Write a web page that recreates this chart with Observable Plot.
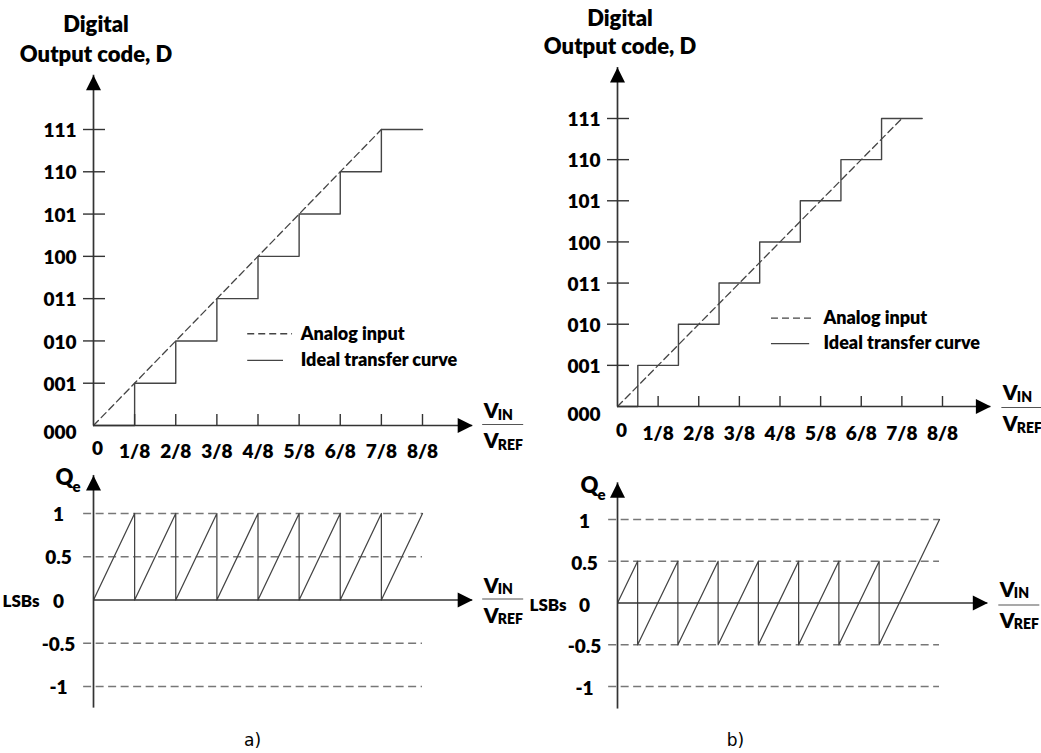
<!DOCTYPE html>
<html><head><meta charset="utf-8">
<script src="https://cdn.jsdelivr.net/npm/d3@7"></script>
<script src="https://cdn.jsdelivr.net/npm/@observablehq/plot@0.6"></script>
<style>
html,body{margin:0;padding:0;background:#fff;}
#wrap{position:relative;width:1041px;height:753px;background:#fff;overflow:hidden;}
.panel{position:absolute;}
</style></head><body><div id="wrap"></div>
<script>
// ---------- data ----------
const codeLabels = ["000","001","010","011","100","101","110","111"];
const codeValues = [0,1,2,3,4,5,6,7];
const fracLabels = ["0","1/8","2/8","3/8","4/8","5/8","6/8","7/8","8/8"];
const fracValues = [0,1,2,3,4,5,6,7,8];
const qeLabels = ["1","0.5","0","-0.5","-1"];
const qeValues = [1,0.5,0,-0.5,-1];
const legendLabels = ["Analog input","Ideal transfer curve"];

// a) ideal transfer curve (transition points, drawn step-after)
const stairA_x = [0,1,2,3,4,5,6,7,8];
const stairA_y = [0,1,2,3,4,5,6,7,7];
// b) offset by half an LSB
const stairB_x = [0,0.5,1.5,2.5,3.5,4.5,5.5,6.5,7.5];
const stairB_y = [0,1,2,3,4,5,6,7,7];
// analog input
const analog_x = [0,7];
const analog_y = [0,7];
// quantization error
const qeA_x = [0,1,1,2,2,3,3,4,4,5,5,6,6,7,7,8];
const qeA_y = [0,1,0,1,0,1,0,1,0,1,0,1,0,1,0,1];
const qeB_x = [0,0.5,0.5,1.5,1.5,2.5,2.5,3.5,3.5,4.5,4.5,5.5,5.5,6.5,6.5,8];
const qeB_y = [0,0.5,-0.5,0.5,-0.5,0.5,-0.5,0.5,-0.5,0.5,-0.5,0.5,-0.5,0.5,-0.5,1];

const pts = (xs, ys) => xs.map((x,i)=>({x, y: ys[i]}));

// ---------- styling ----------
const FONT = "Lato";
const W = 800;
const AXIS = "#333";
const CURVE = "#444";
const arrowUp = {draw(ctx){ ctx.moveTo(0,0); ctx.lineTo(7.5,15); ctx.lineTo(-7.5,15); ctx.closePath(); }};

const wrap = document.getElementById("wrap");
function panel(pos, cfg, marksFn){
  const kx = (cfg.xr[1]-cfg.xr[0])/(cfg.xd[1]-cfg.xd[0]);
  const ky = (cfg.yr[0]-cfg.yr[1])/(cfg.yd[1]-cfg.yd[0]);
  const svg = Plot.plot({
    width: pos.w, height: pos.h, margin: 0,
    x: {domain: cfg.xd, range: cfg.xr, axis: null},
    y: {domain: cfg.yd, range: cfg.yr, axis: null},
    style: {fontFamily: FONT, background: "transparent", overflow: "visible", color: "#000"},
    marks: marksFn(p => p/kx, p => p/ky)
  });
  const div = document.createElement("div");
  div.className = "panel";
  div.style.left = pos.l + "px"; div.style.top = pos.t + "px";
  div.appendChild(svg);
  wrap.appendChild(div);
}

function vinLabel(xTip, px, py, o){
  return [
    Plot.text([{x:xTip, y:0}], {x:"x", y:"y", text:()=>"V", dx:o.dx, dy:o.dyTop, textAnchor:"start", fontSize:21, fontWeight:W}),
    Plot.text([{x:xTip, y:0}], {x:"x", y:"y", text:()=>"IN", dx:o.dx+14, dy:o.dyTop+4, textAnchor:"start", fontSize:14, fontWeight:W}),
    Plot.ruleY([0], {x1: xTip + px(o.dx-1), x2: xTip + px(o.dx+40), dy:o.dyLine, stroke:"#555", strokeWidth:1.2}),
    Plot.text([{x:xTip, y:0}], {x:"x", y:"y", text:()=>"V", dx:o.dx, dy:o.dyBot, textAnchor:"start", fontSize:21, fontWeight:W}),
    Plot.text([{x:xTip, y:0}], {x:"x", y:"y", text:()=>"REF", dx:o.dx+14, dy:o.dyBot+4, textAnchor:"start", fontSize:14, fontWeight:W})
  ];
}

function topMarks(o){
  return (px, py) => {
    const codes = codeValues.map((v,i)=>({v, t: codeLabels[i]}));
    const fracs = fracValues.map((v,i)=>({v, t: fracLabels[i]}));
    return [
      // curves
      Plot.line(pts(analog_x, analog_y), {x:"x", y:"y", stroke:CURVE, strokeWidth:1.3, strokeDasharray:"7,4"}),
      Plot.line(o.stair, {x:"x", y:"y", curve:"step-after", stroke:CURVE, strokeWidth:1.4}),
      // axes
      Plot.ruleY([0], {x1:0, x2:o.xTip, stroke:AXIS, strokeWidth:1.7}),
      Plot.ruleX([0], {y1:0, y2:o.yTip, stroke:AXIS, strokeWidth:1.7}),
      Plot.dot([{x:o.xTip, y:0}], {x:"x", y:"y", symbol:arrowUp, rotate:90, fill:"#000", stroke:"none"}),
      Plot.dot([{x:0, y:o.yTip}], {x:"x", y:"y", symbol:arrowUp, fill:"#000", stroke:"none"}),
      // ticks
      Plot.ruleY(codes.slice(1), {y:"v", x1:-px(10), x2:px(12), stroke:AXIS, strokeWidth:1.4}),
      Plot.ruleX(fracs.slice(1), {x:"v", y1:0, y2:py(o.xTickLen), stroke:AXIS, strokeWidth:1.4}),
      // tick labels
      Plot.text(codes.slice(1), {x:0, y:"v", text:"t", dx:-17, dy:1.5, textAnchor:"end", fontSize:19, fontWeight:W}),
      Plot.text(codes.slice(0,1), {x:0, y:"v", text:"t", dx:-17, dy:o.zeroDy, textAnchor:"end", fontSize:19, fontWeight:W}),
      Plot.text(fracs.slice(1), {x:"v", y:0, text:"t", dy:o.fracDy, fontSize:19, fontWeight:W}),
      Plot.text(fracs.slice(0,1), {x:"v", y:0, text:"t", dx:4, dy:o.fracDy-3, fontSize:19, fontWeight:W}),
      // axis title
      Plot.text([{x:0, y:o.yTip}], {x:"x", y:"y", text:()=>"Digital", dx:2.5, dy:o.titleDy1, fontSize:22, fontWeight:W}),
      Plot.text([{x:0, y:o.yTip}], {x:"x", y:"y", text:()=>"Output code, D", dx:2.5, dy:o.titleDy2, fontSize:22, fontWeight:W}),
      // legend
      Plot.ruleY([o.leg.y1], {x1:o.leg.x0, x2:o.leg.x1d, stroke:CURVE, strokeWidth:1.3, strokeDasharray:"7,4"}),
      Plot.ruleY([o.leg.y2], {x1:o.leg.x0, x2:o.leg.x1s, stroke:CURVE, strokeWidth:1.3}),
      Plot.text([{x:o.leg.xt, y:o.leg.y1, t:legendLabels[0]}], {x:"x", y:"y", text:"t", textAnchor:"start", dy:0, fontSize:18, fontWeight:W}),
      Plot.text([{x:o.leg.xt, y:o.leg.y2, t:legendLabels[1]}], {x:"x", y:"y", text:"t", textAnchor:"start", dy:0, fontSize:18, fontWeight:W}),
      ...vinLabel(o.xTip, px, py, o.vin)
    ];
  };
}

function botMarks(o){
  return (px, py) => {
    const lv = qeValues.map((v,i)=>({v, t: qeLabels[i]}));
    return [
      Plot.ruleY(lv.filter(d=>d.v!==0), {y:"v", x1:o.dashFrom, x2:8, stroke:"#777", strokeWidth:1.6, strokeDasharray:"8,4.5"}),
      Plot.line(o.qe, {x:"x", y:"y", stroke:CURVE, strokeWidth:1.25}),
      Plot.ruleY([0], {x1:0, x2:o.xTip, stroke:AXIS, strokeWidth:1.7}),
      Plot.ruleX([0], {y1:o.yBot, y2:o.yTip, stroke:AXIS, strokeWidth:1.7}),
      Plot.dot([{x:o.xTip, y:0}], {x:"x", y:"y", symbol:arrowUp, rotate:90, fill:"#000", stroke:"none"}),
      Plot.dot([{x:0, y:o.yTip}], {x:"x", y:"y", symbol:arrowUp, fill:"#000", stroke:"none"}),
      Plot.text(lv, {x:0, y:"v", text:"t", dx:o.lblDx, dy:o.lblDy, fontSize:19, fontWeight:W}),
      Plot.text([{x:0, y:0}], {x:"x", y:"y", text:()=>"LSBs", dx:o.lsbDx, dy:o.lblDy, textAnchor:"end", fontSize:17, fontWeight:W}),
      Plot.text([{x:0, y:o.yTip}], {x:"x", y:"y", text:()=>"Q", dx:o.qDx, dy:o.qDy, fontSize:22, fontWeight:W}),
      Plot.text([{x:0, y:o.yTip}], {x:"x", y:"y", text:()=>"e", dx:o.qDx+12, dy:o.qDy+9, fontSize:15, fontWeight:W}),
      Plot.text([o.cap], {x:"x", y:"y", text:"t", fontSize:17, fontFamily:"DejaVu Sans", fontWeight:"normal"}),
      ...vinLabel(o.xTip, px, py, o.vin)
    ];
  };
}

// ---------- panels ----------
// a) top
panel({l:0, t:0, w:528, h:465},
  {xd:[0,8], xr:[93,422], yd:[0,7], yr:[425,129]},
  topMarks({stair: pts(stairA_x, stairA_y), xTip:9.22, yTip:8.28, xTickLen:11,
    zeroDy:7, fracDy:26, titleDy1:-50, titleDy2:-20,
    leg:{x0:3.75, x1d:4.84, x1s:4.62, xt:5.04, y1:2.17, y2:1.54},
    vin:{dx:11, dyTop:-14, dyLine:-1, dyBot:16}}));
// b) top
panel({l:520, t:0, w:521, h:465},
  {xd:[0,8], xr:[97,422], yd:[0,7], yr:[406,118]},
  topMarks({stair: pts(stairB_x, stairB_y), xTip:9.19, yTip:8.24, xTickLen:10,
    zeroDy:8, fracDy:27, titleDy1:-49, titleDy2:-21,
    leg:{x0:3.79, x1d:4.85, x1s:4.73, xt:5.07, y1:2.15, y2:1.53},
    vin:{dx:12, dyTop:-13, dyLine:1, dyBot:18}}));
// a) bottom
panel({l:0, t:465, w:528, h:288},
  {xd:[0,8], xr:[93,422], yd:[-1,1], yr:[221,48]},
  botMarks({qe: pts(qeA_x, qeA_y), xTip:9.22, yTip:1.44, yBot:-1.25, dashFrom:-0.24,
    lblDx:-35, lblDy:1.5, lsbDx:-54, qDx:-29, qDy:3,
    cap:{x:3.87, y:-1.63, t:"a)"},
    vin:{dx:11, dyTop:-14, dyLine:-1, dyBot:16}}));
// b) bottom
panel({l:520, t:465, w:521, h:288},
  {xd:[0,8], xr:[97,419], yd:[-1,1], yr:[221,54]},
  botMarks({qe: pts(qeB_x, qeB_y), xTip:9.2, yTip:1.44, yBot:-1.27, dashFrom:-0.22,
    lblDx:-33, lblDy:2.5, lsbDx:-51, qDx:-28, qDy:3,
    cap:{x:2.93, y:-1.65, t:"b)"},
    vin:{dx:12, dyTop:-13, dyLine:2, dyBot:18}}));
</script>
</body></html>
